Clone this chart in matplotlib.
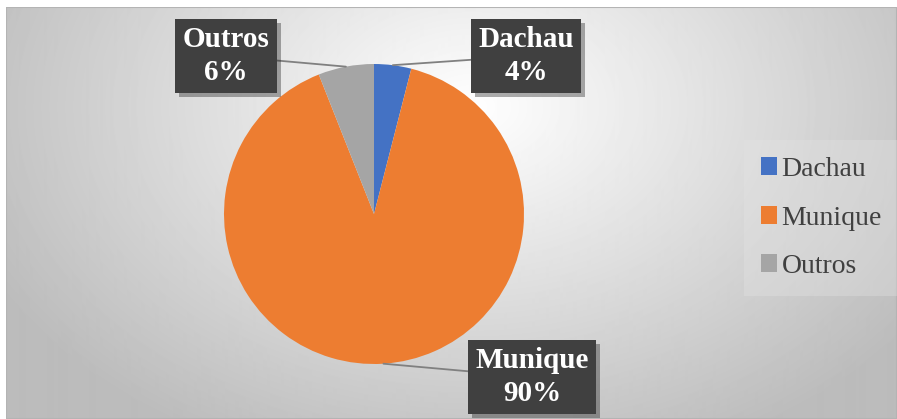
import numpy as np
import matplotlib
matplotlib.use("Agg")
import matplotlib.pyplot as plt
import matplotlib.patheffects as pe
from matplotlib.patches import Rectangle

labels = ["Dachau", "Munique", "Outros"]
values = [4, 90, 6]
colors = ["#4472C4", "#ED7D31", "#A5A5A5"]
# label box centres, figure pixels measured from the top-left
label_pos = [(526, 56), (532, 377), (226, 56)]

W, H = 897, 419
fig = plt.figure(figsize=(W / 100, H / 100), dpi=100)
fig.patch.set_facecolor("white")

# chart area background: soft radial gradient
bg = fig.add_axes([6 / W, 0, 1 - 6 / W, (H - 7) / H])
bg.set_axis_off()
yy, xx = np.mgrid[0:H - 7, 0:W - 6]
d = np.sqrt(((xx - 465) / 470.0) ** 2 + ((yy - 100) / 330.0) ** 2)
grad = 1.0 - 0.23 * np.clip(d, 0, 1.15)
bg.imshow(grad, cmap="gray", vmin=0, vmax=1, aspect="auto",
          extent=[0, W - 6, H - 7, 0], interpolation="bilinear")
bg.add_patch(Rectangle((0, 0), W - 6, H - 7, fill=False, ec="#b4b4b4", lw=1.5))
bg.set_xlim(0, W - 6)
bg.set_ylim(H - 7, 0)

# pie, centred at (374, 214) px with radius 150 px
cx, cy, r = 374, 214, 150
ax = fig.add_axes([(cx - r) / W, (H - cy - r) / H, 2 * r / W, 2 * r / H])
wedges, _ = ax.pie(values, colors=colors, startangle=90, counterclock=False,
                   wedgeprops=dict(edgecolor="none"))
ax.set_xlim(-1, 1)
ax.set_ylim(-1, 1)
ax.set_aspect("equal")

for w, name, val, (px, py) in zip(wedges, labels, values, label_pos):
    ang = np.deg2rad((w.theta1 + w.theta2) / 2)
    x, y = np.cos(ang), np.sin(ang)
    t = ax.annotate(f"{name}\n{val}%", xy=(x, y), xytext=(px, H - py),
                    textcoords="figure pixels", ha="center", va="center",
                    fontsize=21, fontweight="bold", family="Liberation Serif",
                    color="white", linespacing=1.25,
                    bbox=dict(boxstyle="square,pad=0.25", fc="#404040", ec="none"),
                    arrowprops=dict(arrowstyle="-", color="#808080", lw=1.3,
                                    shrinkA=0, shrinkB=0),
                    annotation_clip=False)
    t.get_bbox_patch().set_path_effects(
        [pe.SimplePatchShadow(offset=(3, -3), alpha=0.35), pe.Normal()])

leg = fig.legend(wedges, labels, loc="center left",
                 bbox_to_anchor=(730 / W, (H - 218) / H),
                 prop=dict(family="Liberation Serif", size=20),
                 handlelength=0.6, handleheight=0.6, handletextpad=0.15,
                 labelspacing=0.85, borderpad=0.6, frameon=True, fancybox=False)
leg.get_frame().set_facecolor("#e4e4e4")
leg.get_frame().set_edgecolor("none")
leg.get_frame().set_alpha(0.35)
for txt in leg.get_texts():
    txt.set_color("#404040")

fig.savefig("out.png", dpi=100)
